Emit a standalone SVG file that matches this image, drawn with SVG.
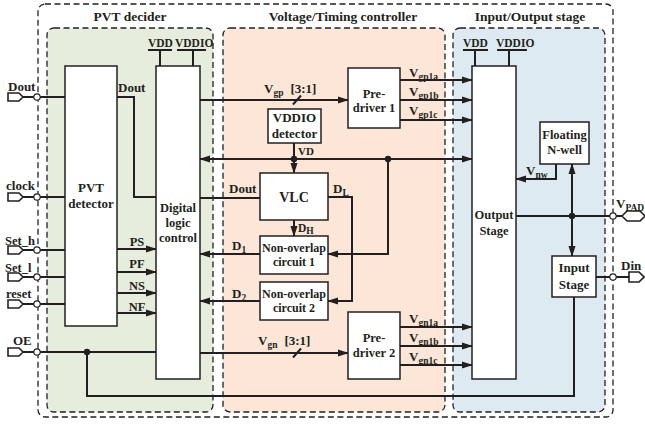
<svg xmlns="http://www.w3.org/2000/svg" width="645" height="425" viewBox="0 0 645 425">
<style>
text{font-family:"Liberation Serif","Times New Roman",serif;font-weight:bold;fill:#231f20}
.t{font-size:13.5px}
.l{font-size:12.5px}
.m{font-size:13px}
.s{font-size:11.5px}
.n{font-size:12px}
.sub{font-size:9.5px}
.c{text-anchor:middle}
.box{fill:#fff;stroke:#231f20;stroke-width:1.5}
.w{fill:none;stroke:#231f20;stroke-width:2}
.a{marker-end:url(#ah)}
.pin{fill:#fff;stroke:#231f20;stroke-width:1.6}
.dot{fill:#231f20}
.oc{fill:#fff;stroke:#231f20;stroke-width:1.2}
.dash{stroke:#231f20;stroke-width:1.3;stroke-dasharray:6,3.5}
</style>
<defs>
<marker id="ah" markerUnits="userSpaceOnUse" markerWidth="11" markerHeight="8" refX="10" refY="4" orient="auto-start-reverse">
<path d="M0,0.5 L11,4 L0,7.5 z" fill="#231f20"/>
</marker>
</defs>
<rect x="0" y="0" width="645" height="425" fill="#fff"/>

<!-- panels -->
<rect x="38" y="4" width="575" height="413" rx="7" fill="none" class="dash"/>
<g id="pvt-decider">
<rect x="47" y="28" width="166" height="384" rx="7" fill="#e6eddc" class="dash"/>
<text class="t c" x="130" y="21">PVT decider</text>
</g>
<g id="vt-controller">
<rect x="223" y="28" width="222" height="384" rx="7" fill="#fbe6d8" class="dash"/>
<text class="t c" x="343" y="21">Voltage/Timing controller</text>
</g>
<g id="io-stage">
<rect x="453" y="28" width="152" height="384" rx="7" fill="#deeaf2" class="dash"/>
<text class="t c" x="530" y="21">Input/Output stage</text>
</g>

<!-- connectors -->
<g id="connectors">
<path class="w" d="M23,97 H65"/>
<path class="w" d="M23,197 H65"/>
<path class="w" d="M23,250 H65"/>
<path class="w" d="M23,277 H65"/>
<path class="w" d="M23,304 H65"/>
<path class="w" d="M23,352 H156"/>
<path class="w" d="M87,352 V396 H574 V297"/>
<circle class="dot" cx="87" cy="352" r="3.2"/>
<path class="w" d="M117,97 H134 V197 H156"/>
<path class="w a" d="M117,249 H156"/>
<path class="w a" d="M117,272 H156"/>
<path class="w a" d="M117,293 H156"/>
<path class="w a" d="M117,313 H156"/>
<path class="w a" d="M200,100 H348"/>
<path class="w" d="M293,104.5 L301,95.5" stroke-width="1.6"/>
<path class="w a" d="M294,159 H200"/>
<path class="w a" d="M294,159 H472"/>
<path class="w a" d="M294,143 V173"/>
<circle class="dot" cx="294" cy="159" r="3.2"/>
<circle class="dot" cx="388" cy="159" r="3.2"/>
<path class="w" d="M200,198 H260"/>
<path class="w a" d="M328,197 H352 V301 H328"/>
<path class="w a" d="M294,220 V236"/>
<path class="w a" d="M260,254 H200"/>
<path class="w a" d="M388,159 V254 H328"/>
<path class="w a" d="M260,301 H200"/>
<path class="w a" d="M200,353 H348"/>
<path class="w" d="M293,357.5 L301,348.5" stroke-width="1.6"/>
<path class="w a" d="M400,80 H472"/>
<path class="w a" d="M400,100 H472"/>
<path class="w a" d="M400,120 H472"/>
<path class="w a" d="M400,327 H472"/>
<path class="w a" d="M400,346 H472"/>
<path class="w a" d="M400,365 H472"/>
<path class="w a" d="M556,164 V179 H516"/>
<path class="w a" d="M572,216 V164"/>
<path class="w a" d="M572,216 V256"/>
<path class="w" d="M516,216 H622"/>
<circle class="dot" cx="572" cy="216" r="3.2"/>
<path class="w" d="M596,277 H629"/>
<!-- supply stubs -->
<path class="w" d="M160,50 V66 M193,50 V66 M475,50 V66 M509,50 V66" stroke-width="1.4"/>
<path class="w" d="M148,50 H172 M177,50 H206 M463,50 H488 M497,50 H527" stroke-width="2.2"/>
</g>

<!-- pins -->
<g id="pin-dout">
<path class="pin" d="M8,93 H19 L23,97 L19,101 H8 Z"/>
<circle class="oc" cx="37" cy="97" r="3.2"/>
<text class="m" x="8" y="91">Dout</text>
</g>
<g id="pin-clock">
<path class="pin" d="M8,193 H19 L23,197 L19,201 H8 Z"/>
<circle class="oc" cx="37" cy="197" r="3.2"/>
<text class="m" x="6" y="190">clock</text>
</g>
<g id="pin-set-h">
<path class="pin" d="M8,246 H19 L23,250 L19,254 H8 Z"/>
<circle class="oc" cx="37" cy="250" r="3.2"/>
<text class="l" x="5" y="245">Set_h</text>
</g>
<g id="pin-set-l">
<path class="pin" d="M8,273 H19 L23,277 L19,281 H8 Z"/>
<circle class="oc" cx="37" cy="277" r="3.2"/>
<text class="l" x="5" y="272">Set_l</text>
</g>
<g id="pin-reset">
<path class="pin" d="M8,300 H19 L23,304 L19,308 H8 Z"/>
<circle class="oc" cx="37" cy="304" r="3.2"/>
<text class="l" x="6" y="298">reset</text>
</g>
<g id="pin-oe">
<path class="pin" d="M8,348 H19 L23,352 L19,356 H8 Z"/>
<circle class="oc" cx="37" cy="352" r="3.2"/>
<text class="m" x="13" y="345">OE</text>
</g>
<g id="pin-vpad">
<circle class="oc" cx="613" cy="216" r="3.2"/>
<path class="pin" d="M622,216 L627,211 H640 L645,216 L640,221 H627 Z"/>
<text class="m" x="616" y="208">V<tspan class="sub" dy="3">PAD</tspan></text>
</g>
<g id="pin-din">
<circle class="oc" cx="613" cy="277" r="3.2"/>
<path class="pin" d="M629,272 H639 L644,277 L639,282 H629 Z"/>
<text class="m" x="621" y="270">Din</text>
</g>

<!-- nodes -->
<g id="pvt-detector">
<rect class="box" x="65" y="66" width="52" height="260"/>
<text class="m c" x="91" y="192">PVT</text>
<text class="m c" x="91" y="208">detector</text>
</g>
<g id="digital-logic">
<rect class="box" x="156" y="66" width="44" height="313"/>
<text class="l c" x="178" y="212">Digital</text>
<text class="l c" x="178" y="227">logic</text>
<text class="l c" x="178" y="242">control</text>
</g>
<g id="vddio-detector">
<rect class="box" x="268" y="109" width="53" height="34"/>
<text class="m c" x="294.5" y="122">VDDIO</text>
<text class="m c" x="294.5" y="138">detector</text>
</g>
<g id="pre-driver-1">
<rect class="box" x="348" y="68" width="52" height="60"/>
<text class="l c" x="374" y="98">Pre-</text>
<text class="l c" x="374" y="112">driver 1</text>
</g>
<g id="vlc">
<rect class="box" x="260" y="173" width="68" height="47"/>
<text class="c" x="294" y="202" font-size="14">VLC</text>
</g>
<g id="non-overlap-1">
<rect class="box" x="260" y="236" width="68" height="38"/>
<text class="n c" x="294" y="252">Non-overlap</text>
<text class="n c" x="294" y="266">circuit 1</text>
</g>
<g id="non-overlap-2">
<rect class="box" x="260" y="282" width="68" height="38"/>
<text class="n c" x="294" y="298">Non-overlap</text>
<text class="n c" x="294" y="312">circuit 2</text>
</g>
<g id="pre-driver-2">
<rect class="box" x="348" y="312" width="52" height="67"/>
<text class="l c" x="374" y="342">Pre-</text>
<text class="l c" x="374" y="357">driver 2</text>
</g>
<g id="output-stage">
<rect class="box" x="472" y="66" width="44" height="313"/>
<text class="l c" x="494" y="219">Output</text>
<text class="l c" x="494" y="235">Stage</text>
</g>
<g id="floating-nwell">
<rect class="box" x="540" y="122" width="49" height="42"/>
<text class="l c" x="564.5" y="139">Floating</text>
<text class="l c" x="564.5" y="154">N-well</text>
</g>
<g id="input-stage">
<rect class="box" x="552" y="256" width="44" height="41"/>
<text class="m c" x="574" y="272">Input</text>
<text class="m c" x="574" y="289">Stage</text>
</g>

<!-- labels -->
<g id="labels">
<text class="s" x="148" y="47">VDD</text>
<text class="s" x="175" y="47">VDDIO</text>
<text class="s" x="463" y="47">VDD</text>
<text class="s" x="496" y="47">VDDIO</text>
<text class="m" x="118" y="92">Dout</text>
<text class="l c" x="137" y="246">PS</text>
<text class="l c" x="137" y="268">PF</text>
<text class="l c" x="137" y="290">NS</text>
<text class="l c" x="137" y="311">NF</text>
<text class="m" x="264" y="93">V<tspan class="sub" dy="3">gp</tspan><tspan dx="7" dy="-3">[3:1]</tspan></text>
<text class="m" x="258" y="345">V<tspan class="sub" dy="3">gn</tspan><tspan dx="7" dy="-3">[3:1]</tspan></text>
<text class="m" x="409" y="77">V<tspan class="sub" dy="3">gp1a</tspan></text>
<text class="m" x="409" y="96">V<tspan class="sub" dy="3">gp1b</tspan></text>
<text class="m" x="409" y="115">V<tspan class="sub" dy="3">gp1c</tspan></text>
<text class="m" x="409" y="323">V<tspan class="sub" dy="3">gn1a</tspan></text>
<text class="m" x="409" y="342">V<tspan class="sub" dy="3">gn1b</tspan></text>
<text class="m" x="409" y="361">V<tspan class="sub" dy="3">gn1c</tspan></text>
<text x="298" y="155" font-size="11">VD</text>
<text class="m" x="229" y="193">Dout</text>
<text class="m" x="333" y="193">D<tspan class="sub" dy="3">L</tspan></text>
<text class="s" x="298" y="232">D<tspan class="sub" dy="2">H</tspan></text>
<text class="m" x="232" y="250">D<tspan class="sub" dy="3">1</tspan></text>
<text class="m" x="232" y="298">D<tspan class="sub" dy="3">2</tspan></text>
<text class="m" x="526" y="175">V<tspan class="sub" dy="3">nw</tspan></text>
</g>
</svg>
